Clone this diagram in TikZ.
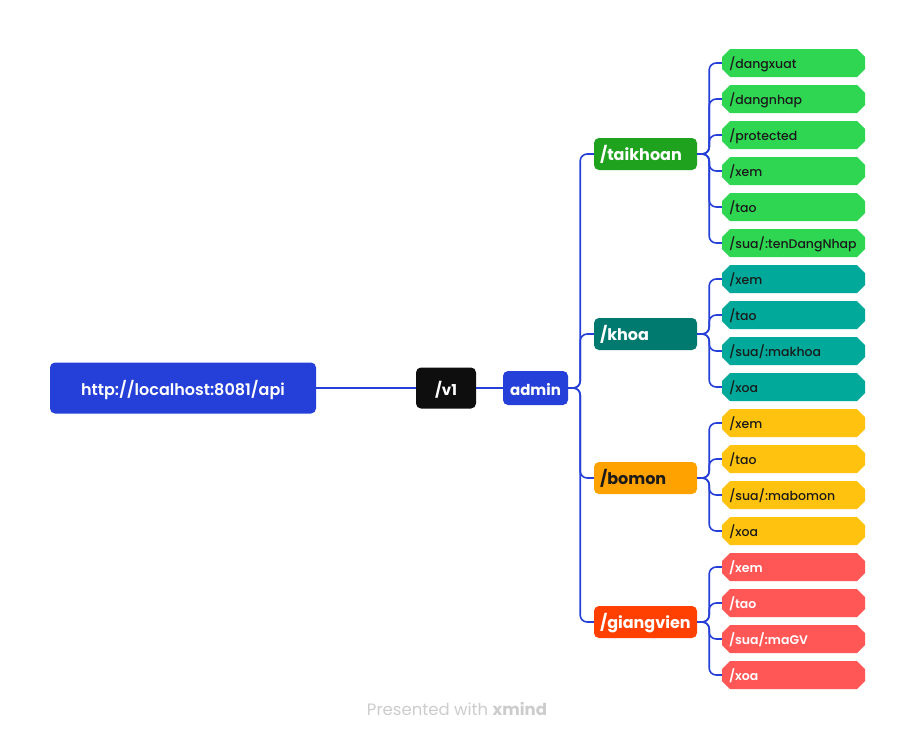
\documentclass[tikz,border=0pt]{standalone}
\usepackage{fontspec}
\setmainfont{Poppins}
\newfontfamily\poppinsmed{Poppins}[UprightFont={* Medium}, BoldFont={* SemiBold}]
\usetikzlibrary{shapes.misc}

\definecolor{mainblue}{HTML}{2540D9}
\definecolor{vblack}{HTML}{0E0E0E}
\definecolor{tkdark}{HTML}{1FA31F}
\definecolor{tklight}{HTML}{2ED652}
\definecolor{khdark}{HTML}{00796E}
\definecolor{khlight}{HTML}{00A99A}
\definecolor{bmdark}{HTML}{FFA200}
\definecolor{bmlight}{HTML}{FFC30F}
\definecolor{gvdark}{HTML}{FF4000}
\definecolor{gvlight}{HTML}{FF5656}
\definecolor{leaftext}{HTML}{1A1A1A}

\tikzset{
    rootbox/.style={fill=mainblue, text=white, rounded corners=5pt, minimum width=266pt, minimum height=51pt, text height=15pt, text depth=1pt, font=\poppinsmed\bfseries\fontsize{16}{18}\selectfont},
    mainbox/.style={fill=#1, rounded corners=5pt, minimum height=34pt, inner xsep=6pt, text height=15pt, text depth=1pt, font=\bfseries\fontsize{15}{17}\selectfont},
    topic/.style={fill=#1, rounded corners=5pt, text width=91pt, inner xsep=6pt, minimum height=32pt, align=left, text height=13pt, text depth=1pt, font=\bfseries\fontsize{16}{18}\selectfont},
    leaf/.style={chamfered rectangle, chamfered rectangle xsep=4pt, chamfered rectangle ysep=4pt, fill=#1, text width=129pt, inner xsep=3pt, minimum height=28pt, align=left, text height=12pt, text depth=1pt, font=\poppinsmed\fontsize{12.5}{14}\selectfont},
    link/.style={draw=mainblue, line width=1.6pt, rounded corners=7pt}
}

\begin{document}
\begin{tikzpicture}[x=1pt, y=-1pt]
\useasboundingbox (0,0) rectangle (914,740);

\node[rootbox] (api) at (183,388) {http://localhost:8081/api};
\node[mainbox=vblack, text=white, minimum width=60pt, minimum height=41pt] (v1) at (446,388) {/v1};
\node[mainbox=mainblue, text=white, minimum width=65pt] (admin) at (535.5,388) {admin};

\node[topic=tkdark, text=white] (taikhoan) at (645.5,154) {/taikhoan};
\node[topic=khdark, text=white] (khoa) at (645.5,334) {/khoa};
\node[topic=bmdark, text=leaftext] (bomon) at (645.5,478) {/bomon};
\node[topic=gvdark, text=white] (giangvien) at (645.5,622) {/giangvien};

\node[leaf=tklight, text=leaftext] (tkdangxuat) at (793.5,63) {/dangxuat};
\node[leaf=tklight, text=leaftext] (tkdangnhap) at (793.5,99) {/dangnhap};
\node[leaf=tklight, text=leaftext] (tkprotected) at (793.5,135) {/protected};
\node[leaf=tklight, text=leaftext] (tkxem) at (793.5,171) {/xem};
\node[leaf=tklight, text=leaftext] (tktao) at (793.5,207) {/tao};
\node[leaf=tklight, text=leaftext] (tksua) at (793.5,243) {/sua/:tenDangNhap};

\node[leaf=khlight, text=leaftext] (khxem) at (793.5,279) {/xem};
\node[leaf=khlight, text=leaftext] (khtao) at (793.5,315) {/tao};
\node[leaf=khlight, text=leaftext] (khsua) at (793.5,351) {/sua/:makhoa};
\node[leaf=khlight, text=leaftext] (khxoa) at (793.5,387) {/xoa};

\node[leaf=bmlight, text=leaftext] (bmxem) at (793.5,423) {/xem};
\node[leaf=bmlight, text=leaftext] (bmtao) at (793.5,459) {/tao};
\node[leaf=bmlight, text=leaftext] (bmsua) at (793.5,495) {/sua/:mabomon};
\node[leaf=bmlight, text=leaftext] (bmxoa) at (793.5,531) {/xoa};

\node[leaf=gvlight, text=white, font=\poppinsmed\bfseries\fontsize{12.5}{14}\selectfont] (gvxem) at (793.5,567) {/xem};
\node[leaf=gvlight, text=white, font=\poppinsmed\bfseries\fontsize{12.5}{14}\selectfont] (gvtao) at (793.5,603) {/tao};
\node[leaf=gvlight, text=white, font=\poppinsmed\bfseries\fontsize{12.5}{14}\selectfont] (gvsua) at (793.5,639) {/sua/:maGV};
\node[leaf=gvlight, text=white, font=\poppinsmed\bfseries\fontsize{12.5}{14}\selectfont] (gvxoa) at (793.5,675) {/xoa};

\node[text=black!20, font=\fontsize{16.5}{18}\selectfont] (credit) at (457,709) {Presented with \textbf{xmind}};

\draw[link] (api) -- (v1);
\draw[link] (v1) -- (admin);
\draw[link] (admin.east) -- ++(12,0) |- (taikhoan.west);
\draw[link] (admin.east) -- ++(12,0) |- (khoa.west);
\draw[link] (admin.east) -- ++(12,0) |- (bomon.west);
\draw[link] (admin.east) -- ++(12,0) |- (giangvien.west);

\draw[link] (taikhoan.east) -- ++(12,0) |- (tkdangxuat.west);
\draw[link] (taikhoan.east) -- ++(12,0) |- (tkdangnhap.west);
\draw[link] (taikhoan.east) -- ++(12,0) |- (tkprotected.west);
\draw[link] (taikhoan.east) -- ++(12,0) |- (tkxem.west);
\draw[link] (taikhoan.east) -- ++(12,0) |- (tktao.west);
\draw[link] (taikhoan.east) -- ++(12,0) |- (tksua.west);

\draw[link] (khoa.east) -- ++(12,0) |- (khxem.west);
\draw[link] (khoa.east) -- ++(12,0) |- (khtao.west);
\draw[link] (khoa.east) -- ++(12,0) |- (khsua.west);
\draw[link] (khoa.east) -- ++(12,0) |- (khxoa.west);

\draw[link] (bomon.east) -- ++(12,0) |- (bmxem.west);
\draw[link] (bomon.east) -- ++(12,0) |- (bmtao.west);
\draw[link] (bomon.east) -- ++(12,0) |- (bmsua.west);
\draw[link] (bomon.east) -- ++(12,0) |- (bmxoa.west);

\draw[link] (giangvien.east) -- ++(12,0) |- (gvxem.west);
\draw[link] (giangvien.east) -- ++(12,0) |- (gvtao.west);
\draw[link] (giangvien.east) -- ++(12,0) |- (gvsua.west);
\draw[link] (giangvien.east) -- ++(12,0) |- (gvxoa.west);
\end{tikzpicture}
\end{document}
